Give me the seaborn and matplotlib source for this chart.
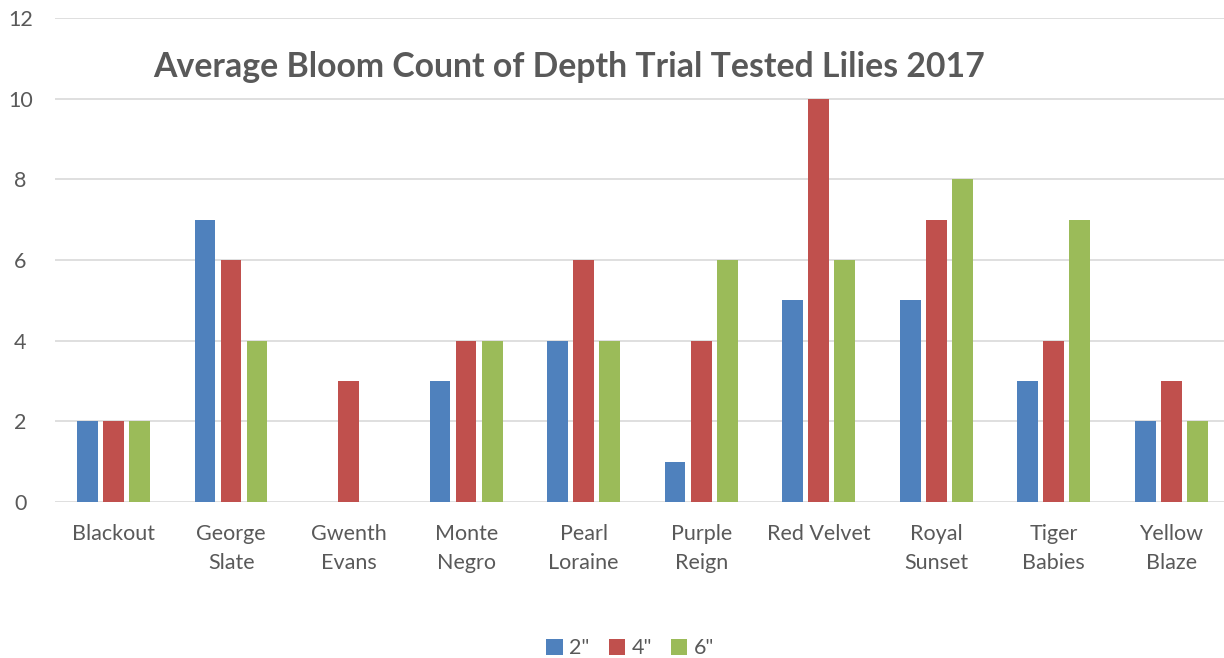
import numpy as np
import pandas as pd
import seaborn as sns
import matplotlib.pyplot as plt

# lily varieties and bloom counts per planting depth
varieties = ['Blackout', 'George\nSlate', 'Gwenth\nEvans', 'Monte\nNegro', 'Pearl\nLoraine',
             'Purple\nReign', 'Red Velvet', 'Royal\nSunset', 'Tiger\nBabies', 'Yellow\nBlaze']
depths = ['2"', '4"', '6"']
blooms_2in = [2, 7, 0, 3, 4, 1, 5, 5, 3, 2]
blooms_4in = [2, 6, 3, 4, 6, 4, 10, 7, 4, 3]
blooms_6in = [2, 4, 0, 4, 4, 6, 6, 8, 7, 2]
colors = ['#4F81BD', '#C0504D', '#9BBB59']

df = pd.DataFrame({
    'variety': varieties * 3,
    'depth': [d for d in depths for _ in varieties],
    'blooms': blooms_2in + blooms_4in + blooms_6in,
})

sns.set_style('white')
plt.rcParams['font.family'] = ['Lato', 'DejaVu Sans']

fig = plt.figure(figsize=(12.24, 6.58), dpi=100)
ax = fig.add_axes([0.0449, 0.237, 0.96, 0.7356])

sns.barplot(data=df, x='variety', y='blooms', hue='depth', palette=colors,
            width=0.664, gap=0.21, saturation=1, linewidth=0, ax=ax, legend=True)

ax.set_xlim(-0.5, 9.5)
ax.set_ylim(0, 12)
ax.set_yticks(range(0, 13, 2))
ax.yaxis.grid(True, color='#D9D9D9', linewidth=1.2)
ax.set_axisbelow(True)
for s in ax.spines.values():
    s.set_visible(False)
ax.set_xlabel('')
ax.set_ylabel('')
ax.tick_params(axis='both', length=0, labelsize=15.5, colors='#595959')
ax.tick_params(axis='x', pad=16)
ax.tick_params(axis='y', pad=25)
for lab in ax.get_yticklabels():
    lab.set_horizontalalignment('center')
for lab in ax.get_xticklabels():
    lab.set_linespacing(1.55)

fig.text(0.465, 0.898, 'Average Bloom Count of Depth Trial Tested Lilies 2017',
         ha='center', va='center', fontsize=24.3, fontweight='bold', color='#595959')

handles, labels = ax.get_legend_handles_labels()
ax.legend_.remove()
fig.legend(handles, labels, loc='center', bbox_to_anchor=(0.515, 0.015), ncol=3,
           frameon=False, fontsize=15.5, handlelength=0.75, handleheight=0.75,
           columnspacing=0.9, handletextpad=0.3, labelcolor='#595959')

fig.savefig('out.png', dpi=100)
